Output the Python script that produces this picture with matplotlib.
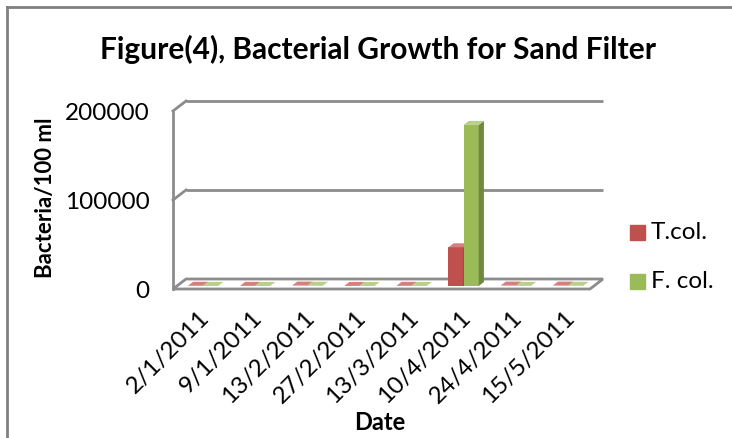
import matplotlib
matplotlib.use("Agg")
import matplotlib.pyplot as plt
from matplotlib.patches import Polygon

dates = ["2/1/2011", "9/1/2011", "13/2/2011", "27/2/2011",
         "13/3/2011", "10/4/2011", "24/4/2011", "15/5/2011"]
t_col = [240, 150, 460, 90, 210, 43500, 460, 460]
f_col = [93, 43, 240, 23, 75, 181000, 150, 240]
series = [("T.col.", t_col), ("F. col.", f_col)]
y_ticks = [0, 100000, 200000]

FRONT = {"T.col.": "#C0504D", "F. col.": "#9BBB59"}
SIDE = {"T.col.": "#8C3836", "F. col.": "#71893F"}
TOP = {"T.col.": "#D5807E", "F. col.": "#B9D08A"}
GRID = "#8C8C8C"

plt.rcParams["font.family"] = ["Lato", "DejaVu Sans"]

fig = plt.figure(figsize=(7.32, 4.39), dpi=100)
W, H = 732, 439
x0, x1, yb, yt = 173, 590, 290, 112
ax = fig.add_axes([x0 / W, 1 - yb / H, (x1 - x0) / W, (yb - yt) / H])
n = len(dates)
ymax = 200000
ax.set_xlim(0, n)
ax.set_ylim(0, ymax)
for s in ax.spines.values():
    s.set_visible(False)

# depth offset (data units)
ddx = 13 / ((x1 - x0) / n)
ddy = 10 / (yb - yt) * ymax

# back wall gridlines + left wall diagonals
for v in y_ticks:
    if v == 0:
        continue
    ax.plot([ddx, n + ddx], [v + ddy, v + ddy], color=GRID, lw=2,
            clip_on=False, zorder=1, solid_capstyle="butt")
    ax.plot([0, ddx], [v, v + ddy], color=GRID, lw=2, clip_on=False, zorder=1)
ax.plot([0, 0], [0, ymax], color=GRID, lw=2, clip_on=False, zorder=1)

# floor
floor = Polygon([(0, 0), (n, 0), (n + ddx, ddy), (ddx, ddy)], closed=True,
                facecolor="white", edgecolor=GRID, lw=2, clip_on=False, zorder=2)
ax.add_patch(floor)

# 3D bars: front face with ax.bar, side and top faces as polygons
w = 0.29
d0, d1 = 0.3, 0.7
for i in range(n):
    for k, (name, vals) in enumerate(series):
        v = vals[i]
        left = i + 0.5 - w + k * w + d0 * ddx
        base = d0 * ddy
        ax.bar(left, v, width=w, bottom=base, align="edge", color=FRONT[name],
               lw=0, zorder=3 + i * 2 + k, clip_on=False)
        r = left + w
        top = base + v
        dx = (d1 - d0) * ddx
        dy = (d1 - d0) * ddy
        ax.add_patch(Polygon([(r, base), (r + dx, base + dy), (r + dx, top + dy), (r, top)],
                             closed=True, facecolor=SIDE[name], lw=0,
                             zorder=3 + i * 2 + k, clip_on=False))
        ax.add_patch(Polygon([(left, top), (r, top), (r + dx, top + dy), (left + dx, top + dy)],
                             closed=True, facecolor=TOP[name], lw=0,
                             zorder=3 + i * 2 + k, clip_on=False))

ax.set_yticks(y_ticks)
ax.set_yticklabels([str(v) for v in y_ticks], fontsize=17.5)
ax.tick_params(axis="y", length=0, pad=17)
ax.set_xticks([i + 0.5 for i in range(n)])
ax.set_xticklabels(dates, rotation=45, ha="right", rotation_mode="anchor", fontsize=17.5)
ax.tick_params(axis="x", length=0, pad=12)
ax.set_xlabel("Date", fontsize=17, fontweight="bold")
ax.xaxis.set_label_coords(0.496, -0.68)
ax.set_ylabel("Bacteria/100 ml", fontsize=16, fontweight="bold")
ax.yaxis.set_label_coords(-0.28, 0.52)

fig.text(378 / W, 1 - 49 / H, "Figure(4), Bacterial Growth for Sand Filter",
         fontsize=21.5, fontweight="bold", ha="center", va="center")

# legend
for k, (name, _) in enumerate(series):
    fig.patches.append(plt.Rectangle((630 / W, 1 - (241 + k * 49) / H), 15 / W, 15 / H,
                                     transform=fig.transFigure, color=FRONT[name]))
    fig.text(651 / W, 1 - (233 + k * 49) / H, name, fontsize=17.5, va="center")

# chart border
fig.add_artist(plt.Line2D([7 / W, 7 / W], [0, 1 - 8 / H], color="#808080", lw=2))
fig.add_artist(plt.Line2D([7 / W, 1], [1 - 8 / H, 1 - 8 / H], color="#808080", lw=2))

fig.savefig("out.png", dpi=100)
